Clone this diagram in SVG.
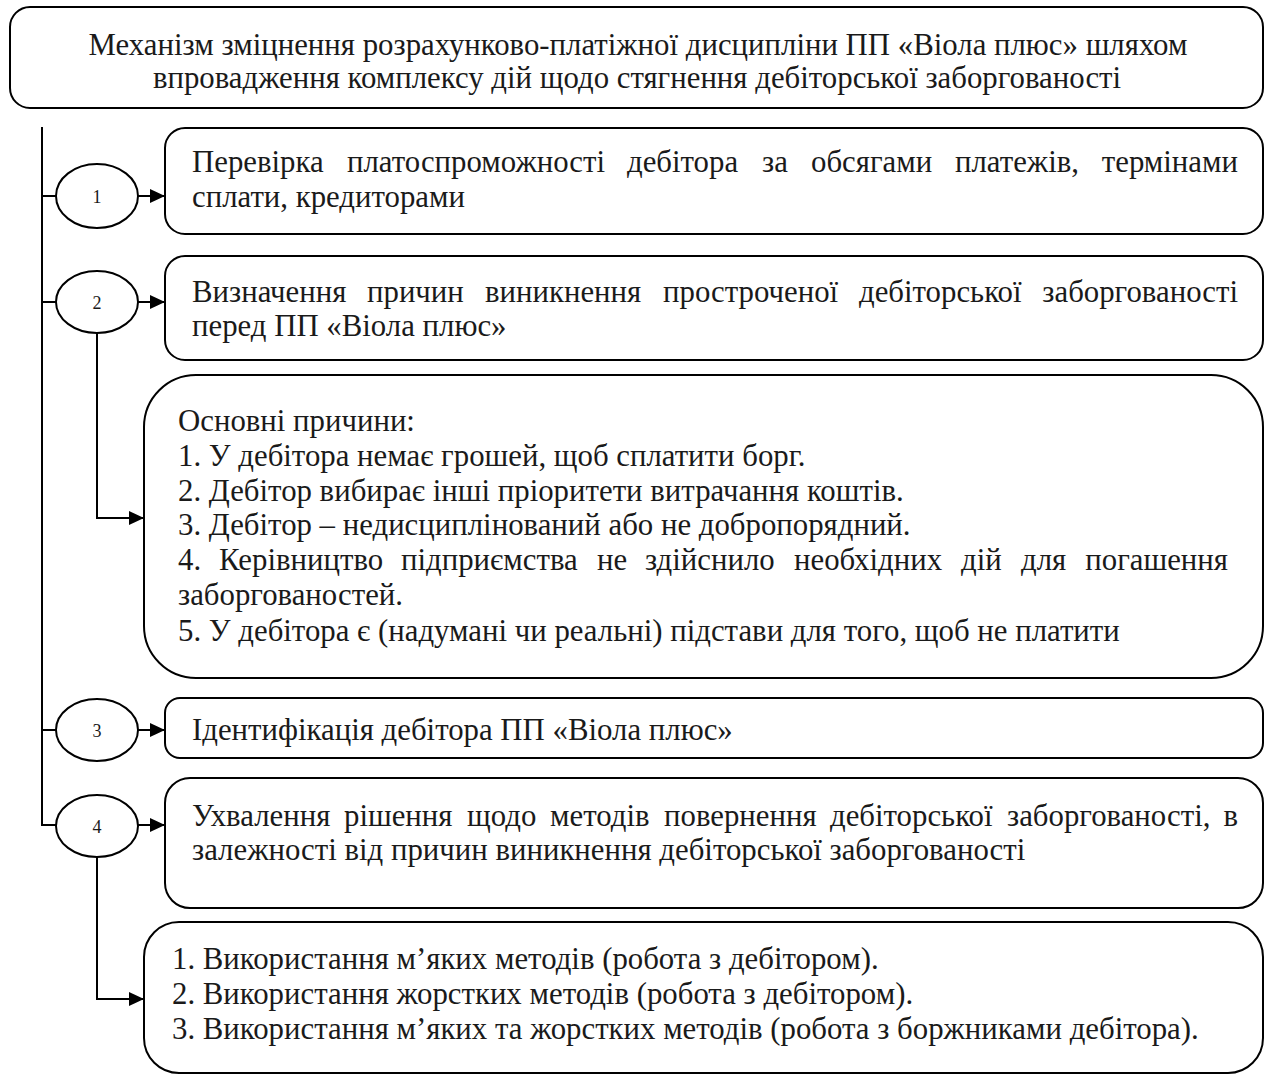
<svg xmlns="http://www.w3.org/2000/svg" width="1270" height="1075" viewBox="0 0 1270 1075">
<style>
.box{fill:#fff;stroke:#000;stroke-width:2}
.ell{fill:#fff;stroke:#000;stroke-width:2}
.ln{fill:none;stroke:#000;stroke-width:2}
text{font-family:"Liberation Serif","Times New Roman",serif;font-size:30.8px;fill:#1a1a1a}
.num{font-size:18px;text-anchor:middle}
.c{text-anchor:middle}
.e{text-anchor:end}
</style>
<defs>
<marker id="ah" markerUnits="userSpaceOnUse" markerWidth="16" markerHeight="14" refX="15" refY="7" orient="auto">
<path d="M0,0 L15,7 L0,14 Z" fill="#000"/>
</marker>
</defs>
<rect width="1270" height="1075" fill="#fff"/>
<g id="connectors">
<path class="ln" d="M42,127 V825 H56"/>
<path class="ln" d="M42,196 H56"/>
<path class="ln" d="M42,302 H56"/>
<path class="ln" d="M42,730 H56"/>
<path class="ln" d="M138,196 H165" marker-end="url(#ah)"/>
<path class="ln" d="M138,302 H165" marker-end="url(#ah)"/>
<path class="ln" d="M138,730 H165" marker-end="url(#ah)"/>
<path class="ln" d="M138,825 H165" marker-end="url(#ah)"/>
<path class="ln" d="M97,333 V518 H144" marker-end="url(#ah)"/>
<path class="ln" d="M97,857 V999 H144" marker-end="url(#ah)"/>
</g>
<g id="title">
<rect class="box" x="10" y="7" width="1253" height="101" rx="20"/>
<text class="c" x="638" y="55">Механізм зміцнення розрахунково-платіжної дисципліни ПП «Віола плюс» шляхом</text>
<text class="c" x="637" y="88">впровадження комплексу дій щодо стягнення дебіторської заборгованості</text>
</g>
<g id="n1">
<ellipse class="ell" cx="97" cy="196" rx="41" ry="32"/>
<text class="num" x="97" y="203">1</text>
</g>
<g id="b1">
<rect class="box" x="165" y="128" width="1098" height="106" rx="20"/>
<text y="172"><tspan x="192">Перевірка</tspan><tspan x="347">платоспроможності</tspan><tspan x="627">дебітора</tspan><tspan x="762">за</tspan><tspan x="811">обсягами</tspan><tspan x="955">платежів,</tspan><tspan class="e" x="1238">термінами</tspan></text>
<text x="192" y="207">сплати, кредиторами</text>
</g>
<g id="n2">
<ellipse class="ell" cx="97" cy="302" rx="41" ry="31"/>
<text class="num" x="97" y="309">2</text>
</g>
<g id="b2">
<rect class="box" x="165" y="256" width="1098" height="104" rx="20"/>
<text y="302"><tspan x="192">Визначення</tspan><tspan x="367">причин</tspan><tspan x="485">виникнення</tspan><tspan x="663">простроченої</tspan><tspan x="859">дебіторської</tspan><tspan class="e" x="1238">заборгованості</tspan></text>
<text x="192" y="336">перед ПП «Віола плюс»</text>
</g>
<g id="b3">
<rect class="box" x="144" y="375" width="1119" height="303" rx="52"/>
<text x="178" y="431">Основні причини:</text>
<text x="178" y="466">1. У дебітора немає грошей, щоб сплатити борг.</text>
<text x="178" y="501">2. Дебітор вибирає інші пріоритети витрачання коштів.</text>
<text x="178" y="535">3. Дебітор – недисциплінований або не добропорядний.</text>
<text y="570"><tspan x="178">4.</tspan><tspan x="219">Керівництво</tspan><tspan x="401">підприємства</tspan><tspan x="597">не</tspan><tspan x="645">здійснило</tspan><tspan x="794">необхідних</tspan><tspan x="961">дій</tspan><tspan x="1021">для</tspan><tspan class="e" x="1228">погашення</tspan></text>
<text x="178" y="605">заборгованостей.</text>
<text x="178" y="641">5. У дебітора є (надумані чи реальні) підстави для того, щоб не платити</text>
</g>
<g id="n3">
<ellipse class="ell" cx="97" cy="730" rx="41" ry="31"/>
<text class="num" x="97" y="737">3</text>
</g>
<g id="b4">
<rect class="box" x="165" y="698" width="1098" height="60" rx="15"/>
<text x="192" y="740">Ідентифікація дебітора ПП «Віола плюс»</text>
</g>
<g id="n4">
<ellipse class="ell" cx="97" cy="826" rx="41" ry="31"/>
<text class="num" x="97" y="833">4</text>
</g>
<g id="b5">
<rect class="box" x="165" y="778" width="1098" height="130" rx="25"/>
<text y="826"><tspan x="192">Ухвалення</tspan><tspan x="344">рішення</tspan><tspan x="467">щодо</tspan><tspan x="550">методів</tspan><tspan x="664">повернення</tspan><tspan x="830">дебіторської</tspan><tspan x="1007">заборгованості,</tspan><tspan class="e" x="1238">в</tspan></text>
<text x="192" y="860">залежності від причин виникнення дебіторської заборгованості</text>
</g>
<g id="b6">
<rect class="box" x="144" y="922" width="1119" height="151" rx="35"/>
<text x="172" y="969">1. Використання м’яких методів (робота з дебітором).</text>
<text x="172" y="1004">2. Використання жорстких методів (робота з дебітором).</text>
<text x="172" y="1039">3. Використання м’яких та жорстких методів (робота з боржниками дебітора).</text>
</g>
</svg>
